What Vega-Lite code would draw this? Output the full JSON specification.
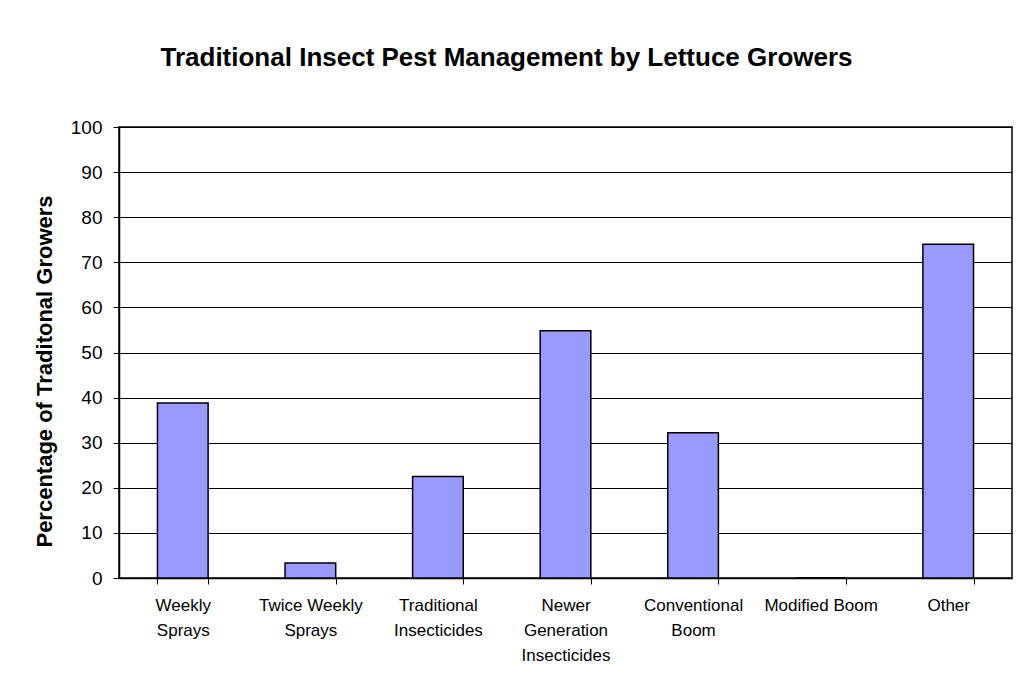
{
  "$schema": "https://vega.github.io/schema/vega-lite/v6.json",
  "autosize": {"type": "none"},
  "width": 893,
  "height": 451,
  "padding": {"left": 119, "top": 127, "right": 6, "bottom": 106},
  "background": "white",
  "title": {
    "text": "Traditional Insect Pest Management by Lettuce Growers",
    "font": "Liberation Sans",
    "fontSize": 26,
    "fontWeight": "bold",
    "color": "black",
    "anchor": "middle",
    "dx": -59,
    "offset": 47
  },
  "data": {
    "values": [
      {"category": "Weekly Sprays", "percent": 38.8},
      {"category": "Twice Weekly Sprays", "percent": 3.3},
      {"category": "Traditional Insecticides", "percent": 22.5},
      {"category": "Newer Generation Insecticides", "percent": 54.8},
      {"category": "Conventional Boom", "percent": 32.2},
      {"category": "Modified Boom", "percent": 0},
      {"category": "Other", "percent": 74.0}
    ]
  },
  "mark": {"type": "bar", "color": "#9999FF", "stroke": "black", "strokeWidth": 1.5},
  "encoding": {
    "x": {
      "field": "category",
      "type": "nominal",
      "sort": null,
      "scale": {"paddingInner": 0.603, "paddingOuter": 0.3015},
      "axis": {
        "title": null,
        "labelAngle": 0,
        "labelFont": "Liberation Sans",
        "labelFontSize": 17,
        "labelColor": "black",
        "labelLineHeight": 25,
        "labelPadding": 13,
        "labelBaseline": "top",
        "labelExpr": "{'Weekly Sprays':['Weekly','Sprays'],'Twice Weekly Sprays':['Twice Weekly','Sprays'],'Traditional Insecticides':['Traditional','Insecticides'],'Newer Generation Insecticides':['Newer','Generation','Insecticides'],'Conventional Boom':['Conventional','Boom'],'Modified Boom':'Modified Boom','Other':'Other'}[datum.value]",
        "tickBand": "extent",
        "tickColor": "black",
        "tickSize": 6,
        "domainColor": "black",
        "domainWidth": 1.5
      }
    },
    "y": {
      "field": "percent",
      "type": "quantitative",
      "scale": {"domain": [0, 100]},
      "axis": {
        "title": "Percentage of Traditonal Growers",
        "titleFont": "Liberation Sans",
        "titleFontSize": 22,
        "titleFontWeight": "bold",
        "titleColor": "black",
        "titlePadding": 14,
        "titleY": 244,
        "values": [0, 10, 20, 30, 40, 50, 60, 70, 80, 90, 100],
        "labelFont": "Liberation Sans",
        "labelFontSize": 19,
        "labelColor": "black",
        "labelPadding": 11,
        "tickColor": "black",
        "tickSize": 6,
        "domainColor": "black",
        "domainWidth": 1.5,
        "grid": true,
        "gridColor": "black",
        "gridOpacity": 1,
        "gridWidth": 1
      }
    }
  },
  "config": {
    "view": {"stroke": "black", "strokeWidth": 1.5}
  }
}
